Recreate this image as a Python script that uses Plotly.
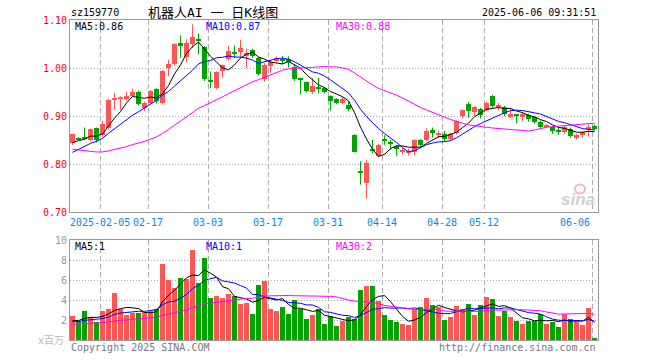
import numpy as np
import pandas as pd
import plotly.graph_objects as go

# ---------------- data ----------------
holidays = ["2025-01-28", "2025-01-29", "2025-01-30", "2025-01-31", "2025-02-03",
            "2025-02-04", "2025-04-04", "2025-05-01", "2025-05-02", "2025-05-05",
            "2025-06-02"]
dates = [d.strftime("%Y-%m-%d") for d in
         pd.bdate_range("2025-01-21", "2025-06-06", freq="C", holidays=holidays)]

tick_dates = ["2025-02-05", "2025-02-17", "2025-03-03", "2025-03-17", "2025-03-31",
              "2025-04-14", "2025-04-28", "2025-05-12", "2025-06-06"]
tick_text = ["2025-02-05", "02-17", "03-03", "03-17", "03-31",
             "04-14", "04-28", "05-12", "06-06"]

opens = [0.844, 0.855, 0.857, 0.849, 0.875, 0.861, 0.875, 0.935, 0.936, 0.937,
         0.941, 0.950, 0.917, 0.927, 0.957, 0.927, 1.000, 1.009, 1.052, 1.023,
         1.051, 1.060, 1.043, 0.975, 0.958, 0.993, 1.018, 1.032, 1.033, 1.024,
         1.038, 1.021, 0.977, 1.005, 1.014, 1.017, 1.018, 1.003, 0.979, 0.970,
         0.950, 0.961, 0.958, 0.941, 0.935, 0.927, 0.922, 0.860, 0.784, 0.760,
         0.831, 0.817, 0.853, 0.846, 0.838, 0.826, 0.824, 0.826, 0.849, 0.851,
         0.870, 0.861, 0.862, 0.852, 0.864, 0.899, 0.924, 0.909, 0.915, 0.912,
         0.941, 0.919, 0.919, 0.898, 0.903, 0.898, 0.903, 0.897, 0.887, 0.877,
         0.877, 0.869, 0.866, 0.873, 0.854, 0.861, 0.872, 0.880]
closes = [0.862, 0.852, 0.853, 0.873, 0.851, 0.884, 0.934, 0.937, 0.940, 0.941,
          0.951, 0.925, 0.928, 0.953, 0.932, 0.994, 1.009, 1.051, 1.045, 1.052,
          1.065, 1.057, 0.978, 0.970, 0.991, 1.006, 1.035, 1.030, 1.042, 1.031,
          1.025, 0.987, 1.007, 1.012, 1.021, 1.015, 1.012, 0.977, 0.974, 0.952,
          0.963, 0.958, 0.949, 0.932, 0.927, 0.935, 0.915, 0.826, 0.782, 0.802,
          0.829, 0.840, 0.847, 0.842, 0.831, 0.828, 0.827, 0.850, 0.840, 0.868,
          0.864, 0.863, 0.852, 0.863, 0.889, 0.912, 0.910, 0.918, 0.902, 0.928,
          0.921, 0.921, 0.904, 0.905, 0.901, 0.904, 0.893, 0.887, 0.877, 0.882,
          0.868, 0.867, 0.877, 0.859, 0.861, 0.866, 0.878, 0.872]
highs = [0.863, 0.856, 0.876, 0.874, 0.876, 0.890, 0.936, 0.948, 0.941, 0.950,
         0.957, 0.953, 0.930, 0.954, 0.958, 0.996, 1.017, 1.052, 1.068, 1.060,
         1.091, 1.072, 1.046, 0.993, 0.993, 1.007, 1.046, 1.047, 1.059, 1.040,
         1.040, 1.023, 1.010, 1.017, 1.024, 1.025, 1.024, 1.008, 0.980, 0.972,
         0.979, 0.979, 0.961, 0.943, 0.937, 0.940, 0.930, 0.862, 0.806, 0.809,
         0.851, 0.842, 0.860, 0.850, 0.840, 0.834, 0.832, 0.852, 0.852, 0.874,
         0.876, 0.869, 0.869, 0.865, 0.891, 0.914, 0.929, 0.921, 0.917, 0.930,
         0.944, 0.927, 0.921, 0.917, 0.904, 0.908, 0.905, 0.900, 0.890, 0.883,
         0.879, 0.877, 0.879, 0.876, 0.863, 0.868, 0.882, 0.882]
lows = [0.839, 0.850, 0.850, 0.847, 0.845, 0.857, 0.872, 0.913, 0.913, 0.932,
        0.940, 0.922, 0.910, 0.925, 0.926, 0.924, 0.983, 1.005, 1.021, 1.012,
        1.042, 1.029, 0.973, 0.958, 0.956, 0.980, 1.016, 1.021, 1.021, 1.000,
        1.021, 0.984, 0.972, 0.990, 1.012, 1.008, 1.001, 0.973, 0.945, 0.949,
        0.946, 0.948, 0.947, 0.911, 0.924, 0.925, 0.910, 0.824, 0.757, 0.728,
        0.822, 0.814, 0.840, 0.830, 0.817, 0.820, 0.818, 0.818, 0.836, 0.848,
        0.855, 0.854, 0.848, 0.848, 0.862, 0.895, 0.896, 0.900, 0.895, 0.910,
        0.917, 0.912, 0.900, 0.896, 0.885, 0.889, 0.888, 0.884, 0.874, 0.875,
        0.863, 0.861, 0.863, 0.855, 0.851, 0.855, 0.857, 0.870]
volumes = [2.4, 1.9, 2.9, 2.3, 1.8, 2.9, 3.1, 4.7, 3.1, 2.5,
           2.7, 2.7, 2.8, 2.9, 3.1, 7.6, 6.0, 5.2, 6.2, 6.1,
           9.0, 5.7, 8.2, 4.2, 4.4, 4.2, 4.6, 4.4, 3.6, 3.7,
           2.6, 5.5, 5.9, 3.1, 2.9, 3.3, 2.6, 4.0, 3.1, 2.1,
           2.5, 3.1, 1.6, 2.4, 1.4, 1.9, 2.3, 2.1, 5.0, 5.4,
           5.4, 3.9, 2.5, 2.0, 1.8, 1.6, 1.5, 3.1, 3.3, 4.2,
           3.5, 3.3, 2.0, 2.3, 3.4, 3.1, 3.6, 2.5, 3.5, 4.3,
           4.1, 2.4, 2.9, 2.3, 1.9, 1.6, 1.9, 1.9, 2.6, 1.6,
           1.8, 1.3, 2.6, 2.1, 1.9, 1.5, 3.2, 0.2]

# estimated history before the first visible day (feeds the moving averages)
prior_closes = [0.91, 0.90, 0.90, 0.89, 0.88, 0.87, 0.86, 0.85, 0.84, 0.83,
                0.83, 0.82, 0.81, 0.79, 0.78, 0.78, 0.77, 0.78, 0.79, 0.80,
                0.79, 0.80, 0.80, 0.81, 0.82, 0.83, 0.84, 0.84, 0.85]
prior_volumes = [1.2, 1.3, 1.4, 1.2, 1.3, 1.4, 1.3, 1.2, 1.4, 1.3,
                 1.3, 1.4, 1.3, 1.4, 1.6, 1.7, 1.6, 1.7, 1.8, 1.7,
                 1.7, 1.8, 1.6, 1.8, 1.75, 1.8, 1.9, 1.7, 1.85]

ma_windows = [5, 10, 30]
ma_names = ["MA5", "MA10", "MA30"]
ma_colors = ["#000000", "#0000ff", "#ff00ff"]
price_ma_labels = ["0.86", "0.87", "0.88"]
volume_ma_labels = ["1", "1", "2"]

price_ticks = [0.70, 0.80, 0.90, 1.00, 1.10]
volume_ticks = [2, 4, 6, 8, 10]

# ---------------- figure ----------------
RED = "#ff5555"
GREEN = "#00a400"
MONO = "DejaVu Sans Mono"

n = len(closes)
xs = np.arange(n) + 5 / 12
up = [c >= o for o, c in zip(opens, closes)]
colors = [RED if u else GREEN for u in up]

cs = pd.Series(prior_closes + closes)
vs = pd.Series(prior_volumes + volumes)
k = len(prior_closes)
price_ma = [cs.rolling(w).mean().iloc[k:].to_numpy() for w in ma_windows]
vol_ma = [vs.rolling(w).mean().iloc[k:].to_numpy() for w in ma_windows]

fig = go.Figure()

# wicks
for flag, col in [(True, RED), (False, GREEN)]:
    wx, wy = [], []
    for i in range(n):
        if up[i] == flag:
            wx += [xs[i], xs[i], None]
            wy += [lows[i], highs[i], None]
    fig.add_trace(go.Scatter(x=wx, y=wy, mode="lines", line=dict(color=col, width=1),
                             hoverinfo="skip", xaxis="x", yaxis="y"))

# bodies
fig.add_trace(go.Bar(x=xs, base=[min(o, c) for o, c in zip(opens, closes)],
                     y=[max(abs(c - o), 0.0015) for o, c in zip(opens, closes)],
                     width=5 / 6, marker=dict(color=colors, line=dict(width=0)),
                     xaxis="x", yaxis="y"))

for m, col in zip(price_ma, ma_colors):
    fig.add_trace(go.Scatter(x=xs, y=m, mode="lines", line=dict(color=col, width=1),
                             xaxis="x", yaxis="y"))

# volume
fig.add_trace(go.Bar(x=xs, y=volumes, width=5 / 6,
                     marker=dict(color=colors, line=dict(width=0)),
                     xaxis="x2", yaxis="y2"))
for m, col in zip(vol_ma, ma_colors):
    fig.add_trace(go.Scatter(x=xs, y=m, mode="lines", line=dict(color=col, width=1),
                             xaxis="x2", yaxis="y2"))

tick_idx = [dates.index(d) for d in tick_dates]

axis_common = dict(showline=True, mirror=True, linecolor="#999999", linewidth=1,
                   zeroline=False, ticks="", fixedrange=True, automargin=False)
xcommon = dict(axis_common, range=[0, n], tickvals=tick_idx, showticklabels=False,
               showgrid=True, gridcolor="#aaaaaa", griddash="5px,3px", gridwidth=1)

fig.update_layout(
    width=660, height=360,
    margin=dict(l=70, r=62, t=20, b=20, pad=0),
    paper_bgcolor="white", plot_bgcolor="white",
    showlegend=False, barmode="overlay", bargap=0,
    font=dict(family=MONO, size=10, color="#000000"),
    xaxis=dict(xcommon, domain=[0, 1], anchor="y"),
    xaxis2=dict(xcommon, domain=[0, 1], anchor="y2", matches="x"),
    yaxis=dict(axis_common, domain=[0.4, 1], range=[0.70, 1.10],
               tickvals=price_ticks, ticktext=[f"{v:.2f}" for v in price_ticks],
               tickfont=dict(family=MONO, size=10, color="#ff0000"),
               showgrid=True, gridcolor="#aaaaaa", griddash="1px,2px", gridwidth=1),
    yaxis2=dict(axis_common, domain=[0, 100 / 320], range=[0, 10],
                tickvals=volume_ticks, ticktext=[str(v) for v in volume_ticks],
                tickfont=dict(family=MONO, size=10, color="#999999"),
                showgrid=True, gridcolor="#aaaaaa", griddash="1px,2px", gridwidth=1),
)


def px(x, y):
    return (x - 70) / 528, (340 - y) / 320


def note(text, x, y, color="#000000", size=10, anchor="left", family=MONO, **kw):
    ax, ay = px(x, y)
    fig.add_annotation(text=text, x=ax, y=ay, xref="paper", yref="paper",
                       xanchor=anchor, yanchor="middle", showarrow=False,
                       font=dict(family=family, size=size, color=color), **kw)


# watermark (drawn first so it stays faint behind the texts)
note("<b><i>sina</i></b>", 597, 199, color="#cfcfcf", size=17, anchor="right",
     family="Arial, Liberation Sans")
cx, cy = px(580, 189)
rx, ry = 5 / 528, 4.5 / 320
fig.add_shape(type="circle", xref="paper", yref="paper", layer="below",
              x0=cx - rx, x1=cx + rx, y0=cy - ry, y1=cy + ry,
              line=dict(color="#f6b4b4", width=2), fillcolor="rgba(0,0,0,0)")

# date labels under the price panel
for idx, t in zip(tick_idx, tick_text):
    xpix = 70 + 6 * idx
    anchor = "center"
    if xpix + len(t) * 3 > 598:
        anchor = "right"
    note(t, xpix, 222, color="#0a88e0", anchor=anchor)

# header
note("sz159770", 69, 12)
note("机器人AI 一 日K线图", 213, 12, size=13, anchor="center",
     family="DejaVu Sans Mono, Noto Sans CJK SC")
note("2025-06-06 09:31:51", 598, 12, anchor="right")

# legends
for name, col, lab, xl in zip(ma_names, ma_colors, price_ma_labels, [73, 204, 334]):
    note(f"{name}:{lab}", xl, 27, color=col)
for name, col, lab, xl in zip(ma_names, ma_colors, volume_ma_labels, [73, 204, 334]):
    note(f"{name}:{lab}", xl, 246, color=col)

# footer
note("Copyright 2025 SINA.COM", 69, 347, color="#777777")
note("http://finance.sina.com.cn", 598, 347, color="#777777", anchor="right")
note("x百万", 66, 340, color="#bbbbbb", anchor="right",
     family="DejaVu Sans Mono, Noto Sans CJK SC")

fig.write_html("out.html", config={"displayModeBar": False},
               post_script="document.body.style.margin='0';"
                           "document.body.style.overflow='hidden';")
